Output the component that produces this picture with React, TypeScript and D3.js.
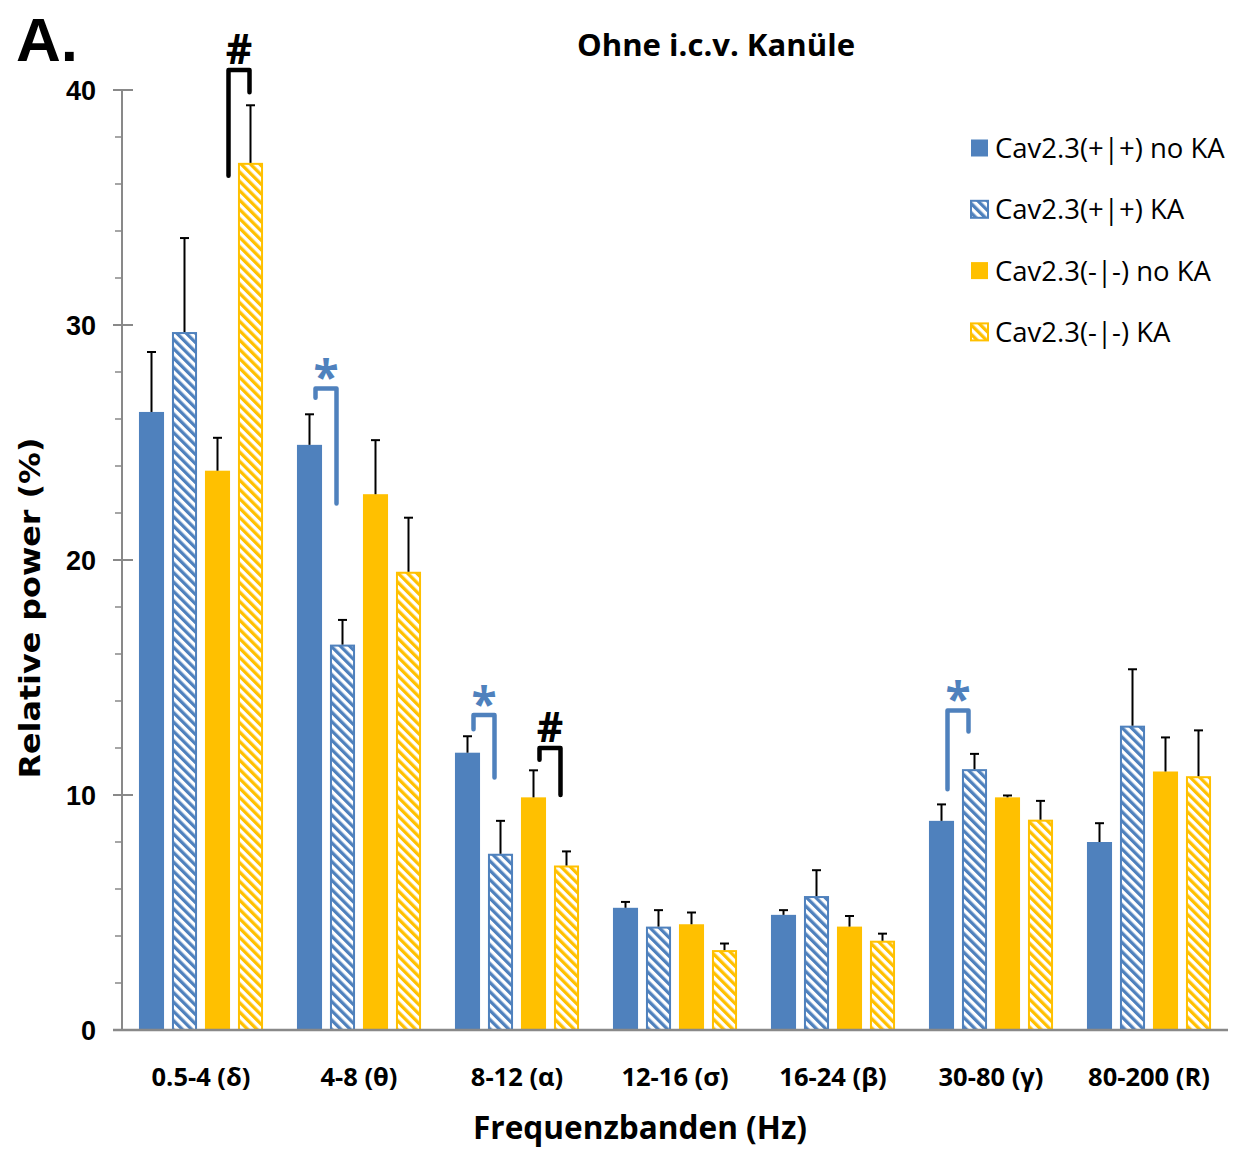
import React from "react";
import * as d3 from "d3";

// Frequency bands on the x axis
const categories = ["0.5-4 (δ)", "4-8 (θ)", "8-12 (α)", "12-16 (σ)", "16-24 (β)", "30-80 (γ)", "80-200 (R)"];

// Series (genotype × treatment)
const seriesNames = ["Cav2.3(+|+) no KA", "Cav2.3(+|+) KA", "Cav2.3(-|-) no KA", "Cav2.3(-|-) KA"];

// Mean relative power (%) per series, one entry per band
const wtNoKA = [26.3, 24.9, 11.8, 5.2, 4.9, 8.9, 8.0];
const wtKA = [29.7, 16.4, 7.5, 4.4, 5.7, 11.1, 12.95];
const koNoKA = [23.8, 22.8, 9.9, 4.5, 4.4, 9.9, 11.0];
const koKA = [36.9, 19.5, 7.0, 3.4, 3.8, 8.95, 10.8];

// Upper end of the error bar for each series
const wtNoKAErr = [28.85, 26.2, 12.5, 5.45, 5.1, 9.6, 8.8];
const wtKAErr = [33.7, 17.45, 8.9, 5.1, 6.8, 11.75, 15.35];
const koNoKAErr = [25.2, 25.1, 11.05, 5.0, 4.85, 9.98, 12.45];
const koKAErr = [39.35, 21.8, 7.6, 3.68, 4.1, 9.75, 12.75];

// Y axis ticks
const yMajorTicks = [0, 10, 20, 30, 40];
const yMinorTicks = d3.range(0, 41, 2);

// Significance brackets: band, pair of series, bracket top, left / right leg ends, symbol, colour key
const brackets = [
  { band: 0, a: 2, b: 3, top: 40.85, leftEnd: 36.35, rightEnd: 39.9, symbol: "#", tone: "black" },
  { band: 1, a: 0, b: 1, top: 27.3, leftEnd: 26.9, rightEnd: 22.4, symbol: "*", tone: "blue" },
  { band: 2, a: 0, b: 1, top: 13.4, leftEnd: 12.8, rightEnd: 10.75, symbol: "*", tone: "blue" },
  { band: 2, a: 2, b: 3, top: 12.0, leftEnd: 11.5, rightEnd: 10.0, symbol: "#", tone: "black" },
  { band: 5, a: 0, b: 1, top: 13.6, leftEnd: 10.25, rightEnd: 12.7, symbol: "*", tone: "blue" },
];

const BLUE = "#4F81BD";
const GOLD = "#FFC000";
const AXIS = "#898989";

const seriesValues = [wtNoKA, wtKA, koNoKA, koKA];
const seriesErr = [wtNoKAErr, wtKAErr, koNoKAErr, koKAErr];
const seriesColor = [BLUE, BLUE, GOLD, GOLD];
const seriesHatched = [false, true, false, true];

const W = 1235;
const H = 1149;
const plotLeft = 122;
const plotRight = 1228;
const plotTop = 90;
const plotBottom = 1030;

export default function App() {
  const x = d3.scaleBand<string>().domain(categories).range([plotLeft, plotRight]).padding(0);
  const inner = d3
    .scaleBand<number>()
    .domain([0, 1, 2, 3])
    .range([-66, 66])
    .paddingInner(0.24)
    .paddingOuter(0.12);
  const y = d3.scaleLinear().domain([0, 40]).range([plotBottom, plotTop]);

  const bw = inner.bandwidth();
  const barCenter = (band: number, s: number) =>
    (x(categories[band]) as number) + x.bandwidth() / 2 + (inner(s) as number) + bw / 2;

  const font = "'Open Sans', 'Noto Sans', sans-serif";

  return (
    <svg
      width={W}
      height={H}
      style={{ position: "absolute", left: 0, top: 0, background: "#fff" }}
      xmlns="http://www.w3.org/2000/svg"
    >
      <defs>
        <pattern id="hatch-blue" patternUnits="userSpaceOnUse" width={6.6} height={6.6} patternTransform="rotate(-45)">
          <rect width={6.6} height={6.6} fill="#fff" />
          <rect width={3.3} height={6.6} fill={BLUE} />
        </pattern>
        <pattern id="hatch-gold" patternUnits="userSpaceOnUse" width={6.6} height={6.6} patternTransform="rotate(-45)">
          <rect width={6.6} height={6.6} fill="#fff" />
          <rect width={3.3} height={6.6} fill={GOLD} />
        </pattern>
      </defs>

      {/* panel letter and title */}
      <text x={16} y={61} fontFamily="'Liberation Sans', Arial, sans-serif" fontWeight={700} fontSize={62}>
        A.
      </text>
      <text x={716} y={56} textAnchor="middle" fontFamily={font} fontWeight={700} fontSize={31} textLength={278} lengthAdjust="spacingAndGlyphs">
        Ohne i.c.v. Kanüle
      </text>

      {/* bars */}
      {seriesValues.map((vals, s) =>
        vals.map((v, i) => {
          const cx = barCenter(i, s);
          const hatched = seriesHatched[s];
          const col = seriesColor[s];
          return (
            <rect
              key={`b${s}-${i}`}
              x={cx - bw / 2 + (hatched ? 1 : 0)}
              y={y(v) + (hatched ? 1 : 0)}
              width={bw - (hatched ? 2 : 0)}
              height={y(0) - y(v) - (hatched ? 1 : 0)}
              fill={hatched ? `url(#hatch-${s === 1 ? "blue" : "gold"})` : col}
              stroke={hatched ? col : "none"}
              strokeWidth={hatched ? 2 : 0}
            />
          );
        })
      )}

      {/* error bars */}
      {seriesErr.map((errs, s) =>
        errs.map((e, i) => {
          const cx = barCenter(i, s);
          return (
            <g key={`e${s}-${i}`} stroke="#000" strokeWidth={2}>
              <line x1={cx} x2={cx} y1={y(seriesValues[s][i])} y2={y(e)} />
              <line x1={cx - 4.5} x2={cx + 4.5} y1={y(e)} y2={y(e)} />
            </g>
          );
        })
      )}

      {/* y axis */}
      <line x1={plotLeft} x2={plotLeft} y1={y(40)} y2={y(0)} stroke={AXIS} strokeWidth={2} />
      {yMinorTicks.map((t) => (
        <line key={`m${t}`} x1={plotLeft - 7} x2={plotLeft} y1={y(t)} y2={y(t)} stroke={AXIS} strokeWidth={1.5} />
      ))}
      {yMajorTicks.map((t) => (
        <g key={`t${t}`}>
          <line x1={plotLeft - 9} x2={plotLeft + 11} y1={y(t)} y2={y(t)} stroke={AXIS} strokeWidth={2} />
          <text
            x={96}
            y={y(t)}
            dy="0.36em"
            textAnchor="end"
            fontFamily="'Liberation Sans', Arial, sans-serif"
            fontWeight={700}
            fontSize={27}
          >
            {t}
          </text>
        </g>
      ))}

      {/* x axis */}
      <line x1={plotLeft - 9} x2={plotRight} y1={y(0)} y2={y(0)} stroke={AXIS} strokeWidth={2.5} />
      {categories.map((c) => (
        <text
          key={c}
          x={(x(c) as number) + x.bandwidth() / 2}
          y={1086}
          textAnchor="middle"
          fontFamily={font}
          fontWeight={700}
          fontSize={25.5}
        >
          {c}
        </text>
      ))}
      <text x={640} y={1139} textAnchor="middle" fontFamily={font} fontWeight={700} fontSize={32} textLength={334} lengthAdjust="spacingAndGlyphs">
        Frequenzbanden (Hz)
      </text>
      <text
        transform={`translate(40, 608) rotate(-90)`}
        textAnchor="middle"
        fontFamily="'DejaVu Sans', Verdana, sans-serif"
        fontWeight={700}
        fontSize={28}
        textLength={341}
        lengthAdjust="spacingAndGlyphs"
      >
        Relative power (%)
      </text>

      {/* significance brackets */}
      {brackets.map((br, k) => {
        const mid = (barCenter(br.band, br.a) + barCenter(br.band, br.b)) / 2 + (br.band === 0 ? 5 : 0);
        const xl = mid - 10.5;
        const xr = mid + 10.5;
        const col = br.tone === "blue" ? BLUE : "#000";
        const yt = y(br.top);
        return (
          <g key={`br${k}`}>
            <path
              d={`M${xl},${y(br.leftEnd)} L${xl},${yt} L${xr},${yt} L${xr},${y(br.rightEnd)}`}
              fill="none"
              stroke={col}
              strokeWidth={4.5}
              strokeLinecap="round"
              strokeLinejoin="round"
            />
            {br.symbol === "*" ? (
              <text x={mid} y={yt + 6} textAnchor="middle" fill={col} fontFamily={font} fontWeight={700} fontSize={46}>
                *
              </text>
            ) : (
              <text x={mid} y={yt - 6} textAnchor="middle" fill={col} fontFamily={font} fontWeight={700} fontSize={41}>
                #
              </text>
            )}
          </g>
        );
      })}

      {/* legend */}
      {seriesNames.map((name, s) => {
        const ly = 148 + s * 61.3;
        const hatched = seriesHatched[s];
        const col = seriesColor[s];
        return (
          <g key={name}>
            <rect
              x={971}
              y={ly - 8.5}
              width={17}
              height={17}
              fill={hatched ? `url(#hatch-${s === 1 ? "blue" : "gold"})` : col}
              stroke={col}
              strokeWidth={hatched ? 2 : 0}
            />
            <text x={995} y={ly} dy="0.36em" fontFamily={font} fontSize={27.5}>
              {name}
            </text>
          </g>
        );
      })}
    </svg>
  );
}
